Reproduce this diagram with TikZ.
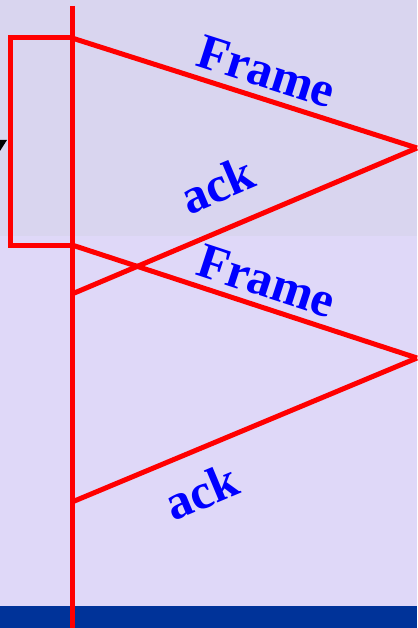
\documentclass[tikz,border=0pt]{standalone}
\usepackage{fontspec}
\setmainfont{Liberation Serif}
\usepackage{tikz}

\definecolor{skytop}{RGB}{217,213,239}
\definecolor{skybot}{RGB}{223,216,248}
\definecolor{band}{RGB}{0,51,153}
\definecolor{lbl}{RGB}{0,0,255}

\begin{document}
\begin{tikzpicture}[x=1pt,y=-1pt,
    wire/.style={red,line width=5pt},
    msg/.style={font=\bfseries\fontsize{50}{50}\selectfont,text=lbl,sloped,inner sep=2pt}]
  \useasboundingbox (0,0) rectangle (417,628);
  \fill[skybot] (0,0) rectangle (417,628);
  \fill[skytop] (0,0) rectangle (417,236);
  \fill[band] (0,606) rectangle (417,628);
  \fill[black] (0,140)--(7,140)--(0,151)--cycle;
  % sender time line and timeout box
  \coordinate (top) at (72,6);
  \coordinate (bot) at (72,628);
  \coordinate (s1) at (72,38);
  \coordinate (a1) at (72,294);
  \coordinate (s2) at (72,245);
  \coordinate (a2) at (72,502);
  \coordinate (r1) at (417,148);
  \coordinate (r2) at (417,358);
  \draw[wire] (top)--(bot);
  \draw[wire,line join=miter] (s1)--(10,38)--(10,245)--(s2);
  \draw[wire] (s1)--(r1) node[msg,pos=0.54,above=6pt] (fr1) {Frame};
  \draw[wire] (r1)--(a1) node[msg,pos=0.53,above=22pt] (ak1) {ack};
  \draw[wire] (s2)--(r2) node[msg,pos=0.54,above=5pt] (fr2) {Frame};
  \draw[wire] (r2)--(a2) node[msg,pos=0.67,below=18pt] (ak2) {ack};
\end{tikzpicture}
\end{document}
